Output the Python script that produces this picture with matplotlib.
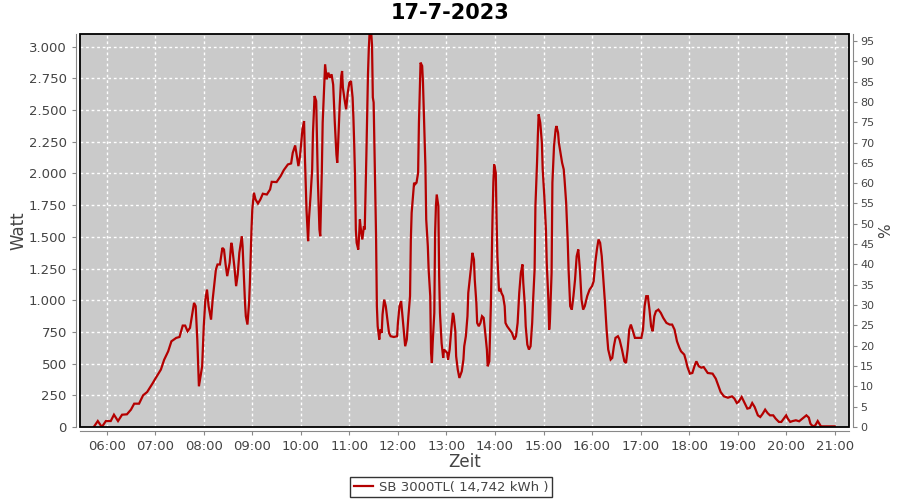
import pandas as pd
import numpy as np
import matplotlib
matplotlib.use("Agg")
import matplotlib.pyplot as plt
import matplotlib.dates as mdates
from matplotlib.ticker import FuncFormatter, MultipleLocator
from matplotlib.patches import Rectangle

# Readings of the inverter output (time of day, Watt)
times = [
    "05:44", "05:49", "05:54", "05:59", "06:05", "06:09", "06:14", "06:19", "06:25", "06:30",
    "06:34", "06:40", "06:45", "06:50", "06:57", "07:00", "07:07", "07:11", "07:16", "07:20",
    "07:26", "07:30", "07:34", "07:37", "07:40", "07:43", "07:46", "07:48", "07:50", "07:52",
    "07:54", "07:56", "07:58", "08:00", "08:02", "08:04", "08:06", "08:09", "08:11", "08:15",
    "08:17", "08:20", "08:23", "08:25", "08:27", "08:29", "08:32", "08:34", "08:35", "08:38",
    "08:40", "08:42", "08:44", "08:47", "08:48", "08:51", "08:52", "08:54", "08:56", "08:57",
    "08:59", "09:00", "09:02", "09:04", "09:07", "09:10", "09:13", "09:18", "09:22", "09:24",
    "09:30", "09:35", "09:39", "09:44", "09:48", "09:50", "09:53", "09:55", "09:57", "09:59",
    "10:02", "10:04", "10:05", "10:07", "10:09", "10:10", "10:12", "10:14", "10:15", "10:17",
    "10:19", "10:21", "10:23", "10:24", "10:26", "10:27", "10:29", "10:30", "10:32", "10:34",
    "10:36", "10:38", "10:40", "10:42", "10:44", "10:45", "10:46", "10:48", "10:50", "10:51",
    "10:52", "10:54", "10:56", "10:58", "11:00", "11:02", "11:04", "11:05", "11:06", "11:07",
    "11:08", "11:09", "11:11", "11:12", "11:13", "11:14", "11:16", "11:18", "11:19", "11:20",
    "11:21", "11:23", "11:24", "11:25", "11:27", "11:28", "11:29", "11:30", "11:31", "11:32",
    "11:33", "11:34", "11:35", "11:37", "11:38", "11:40", "11:41", "11:43", "11:45", "11:47",
    "11:49", "11:51", "11:55", "11:59", "12:00", "12:02", "12:04", "12:06", "12:09", "12:11",
    "12:13", "12:15", "12:16", "12:17", "12:19", "12:20", "12:21", "12:23", "12:25", "12:26",
    "12:27", "12:28", "12:30", "12:31", "12:32", "12:33", "12:34", "12:35", "12:37", "12:38",
    "12:40", "12:41", "12:42", "12:43", "12:45", "12:46", "12:47", "12:48", "12:50", "12:51",
    "12:52", "12:54", "12:56", "12:57", "12:59", "13:01", "13:02", "13:04", "13:06", "13:08",
    "13:09", "13:11", "13:12", "13:14", "13:16", "13:19", "13:21", "13:22", "13:24", "13:26",
    "13:27", "13:29", "13:31", "13:32", "13:34", "13:35", "13:37", "13:38", "13:40", "13:42",
    "13:44", "13:46", "13:48", "13:50", "13:51", "13:53", "13:55", "13:56", "13:57", "13:58",
    "13:59", "14:01", "14:02", "14:03", "14:05", "14:07", "14:08", "14:10", "14:12", "14:13",
    "14:15", "14:18", "14:21", "14:24", "14:26", "14:28", "14:30", "14:32", "14:34", "14:35",
    "14:37", "14:38", "14:40", "14:42", "14:44", "14:46", "14:47", "14:49", "14:50", "14:52",
    "14:53", "14:54", "14:56", "14:58", "14:59", "15:01", "15:03", "15:04", "15:06", "15:07",
    "15:08", "15:10", "15:11", "15:13", "15:15", "15:16", "15:18", "15:19", "15:21", "15:23",
    "15:25", "15:26", "15:28", "15:30", "15:31", "15:33", "15:35", "15:37", "15:39", "15:41",
    "15:43", "15:45", "15:47", "15:49", "15:51", "15:54", "15:57", "16:00", "16:02", "16:04",
    "16:06", "16:08", "16:10", "16:12", "16:14", "16:16", "16:18", "16:20", "16:23", "16:25",
    "16:27", "16:29", "16:32", "16:34", "16:37", "16:40", "16:42", "16:44", "16:46", "16:48",
    "16:50", "16:53", "16:57", "17:01", "17:03", "17:05", "17:07", "17:09", "17:11", "17:13",
    "17:15", "17:17", "17:19", "17:22", "17:25", "17:28", "17:32", "17:36", "17:39", "17:42",
    "17:45", "17:48", "17:50", "17:54", "17:56", "17:58", "18:01", "18:04", "18:07", "18:09",
    "18:12", "18:15", "18:18", "18:23", "18:29", "18:33", "18:36", "18:39", "18:43", "18:48",
    "18:53", "18:56", "18:59", "19:01", "19:05", "19:08", "19:12", "19:15", "19:18", "19:21",
    "19:25", "19:28", "19:31", "19:34", "19:37", "19:40", "19:44", "19:47", "19:51", "19:54",
    "19:57", "20:00", "20:02", "20:05", "20:08", "20:12", "20:16", "20:20", "20:25", "20:28",
    "20:30", "20:33", "20:36", "20:39", "20:41", "20:43", "21:00",
]
watt = [
    0, 47, 0, 47, 47, 97, 47, 97, 100, 137,
    184, 184, 250, 276, 347, 380, 453, 530, 597, 676,
    703, 710, 800, 800, 755, 782, 900, 979, 953, 690,
    321, 400, 479, 795, 1005, 1084, 953, 847, 1005, 1242,
    1282, 1282, 1413, 1400, 1282, 1190, 1295, 1453, 1426, 1255,
    1111, 1203, 1374, 1505, 1426, 979, 874, 808, 979, 1137,
    1558, 1716, 1848, 1795, 1763, 1795, 1840, 1834, 1874, 1934,
    1932, 1979, 2027, 2071, 2079, 2163, 2221, 2137, 2058, 2137,
    2348, 2413, 2137, 1716, 1466, 1637, 1821, 2032, 2321, 2611,
    2571, 1953, 1558, 1505, 2032, 2400, 2703, 2861, 2742, 2795,
    2755, 2782, 2700, 2400, 2150, 2084, 2216, 2532, 2769, 2808,
    2677, 2585, 2506, 2637, 2716, 2729, 2598, 2440, 2229, 1979,
    1558, 1453, 1400, 1505, 1637, 1571, 1479, 1584, 1558, 1848,
    2137, 2782, 2979, 3110, 3110, 3013, 2600, 2560, 2216, 1861,
    1505, 953, 795, 690, 768, 742, 887, 1005, 953, 847,
    742, 716, 710, 716, 821, 953, 992, 847, 637, 690,
    874, 1032, 1479, 1690, 1848, 1927, 1913, 1927, 2006, 2400,
    2637, 2874, 2848, 2716, 2506, 2295, 2058, 1637, 1426, 1242,
    1032, 584, 505, 663, 900, 1532, 1742, 1834, 1742, 1190,
    900, 663, 545, 611, 597, 584, 532, 611, 768, 900,
    874, 755, 558, 453, 387, 440, 532, 637, 716, 874,
    1058, 1176, 1295, 1374, 1321, 1163, 979, 821, 795, 821,
    874, 861, 742, 611, 479, 518, 979, 1321, 1663, 1927,
    2071, 2006, 1637, 1347, 1071, 1084, 1058, 1032, 953, 821,
    795, 768, 742, 690, 716, 821, 1058, 1216, 1282, 1137,
    953, 795, 650, 611, 637, 821, 979, 1242, 1742, 2084,
    2295, 2466, 2400, 2242, 2032, 1821, 1558, 1295, 1005, 768,
    847, 1216, 1927, 2216, 2348, 2374, 2321, 2242, 2163, 2084,
    2032, 1953, 1769, 1453, 1242, 953, 926, 1032, 1163, 1347,
    1400, 1242, 1005, 926, 953, 1032, 1084, 1111, 1150, 1295,
    1400, 1479, 1453, 1347, 1163, 979, 768, 611, 532, 545,
    637, 703, 716, 690, 611, 518, 505, 611, 768, 808,
    768, 703, 703, 703, 768, 953, 1032, 1032, 926, 795,
    755, 874, 913, 926, 900, 861, 821, 808, 808, 768,
    676, 624, 597, 571, 526, 473, 421, 426, 487, 518,
    479, 468, 473, 426, 421, 381, 329, 276, 242, 231,
    242, 224, 189, 197, 237, 197, 145, 150, 189, 158,
    92, 79, 105, 137, 110, 92, 92, 66, 40, 40,
    66, 92, 66, 40, 47, 53, 45, 66, 92, 74,
    26, 5, 13, 47, 26, 5, 5,
]
title = "17-7-2023"
legend_label = "SB 3000TL( 14,742 kWh )"

day = "2023-07-17 "
x = pd.to_datetime([day + t for t in times])

line_color = "#B40000"
text_color = "#444444"
axis_color = "#888888"

fig = plt.figure(figsize=(9, 5), dpi=100)
ax = fig.add_axes([80 / 900, 1 - 427 / 500, (849 - 80) / 900, (427 - 34) / 500])
ax.set_facecolor("#CACACA")

ax.plot(x, watt, color=line_color, lw=1.6, solid_joinstyle="miter", zorder=3)

ax.set_xlim(pd.Timestamp(day + "05:27"), pd.Timestamp(day + "21:17:40"))
ax.set_ylim(0, 3100)
ax.yaxis.set_major_locator(MultipleLocator(250))
ax.yaxis.set_major_formatter(FuncFormatter(lambda v, p: f"{int(v):,}".replace(",", ".")))
ax.xaxis.set_major_locator(mdates.HourLocator())
ax.xaxis.set_major_formatter(mdates.DateFormatter("%H:%M"))

ax.grid(True, color="white", lw=1, linestyle=(0, (2, 2)))
ax.set_axisbelow(True)

# plot border plus offset axis lines
ax.add_patch(Rectangle((0, 0), 1, 1, transform=ax.transAxes, fill=False,
                       edgecolor="black", lw=1.3, clip_on=False, zorder=5))
for side in ["left", "bottom"]:
    ax.spines[side].set_position(("outward", 3))
    ax.spines[side].set_color(axis_color)
for side in ["top", "right"]:
    ax.spines[side].set_visible(False)

ax.tick_params(colors=axis_color, labelcolor=text_color, labelsize=9.5, length=3)
ax.set_ylabel("Watt", fontsize=12, color=text_color, labelpad=1)
ax.set_xlabel("Zeit", fontsize=12, color=text_color, labelpad=0)

ax2 = ax.twinx()
ax2.set_ylim(0, 96.7)
ax2.yaxis.set_major_locator(MultipleLocator(5))
for side in ["left", "top", "bottom"]:
    ax2.spines[side].set_visible(False)
ax2.spines["right"].set_position(("outward", 3))
ax2.spines["right"].set_color(axis_color)
ax2.tick_params(colors=axis_color, labelcolor=text_color, labelsize=8, length=3, pad=2)
ax2.set_ylabel("%", fontsize=11, color=text_color, labelpad=3)

fig.text(0.5, 0.974, title, ha="center", va="center", fontsize=15, fontweight="bold")

leg = fig.legend([ax.lines[0]], [legend_label], loc="center", bbox_to_anchor=(0.501, 0.026),
                 frameon=True, fancybox=False, fontsize=9.5, handlelength=1.5,
                 handletextpad=0.4, borderpad=0.3, borderaxespad=0)
leg.get_frame().set_edgecolor("black")
leg.get_frame().set_linewidth(1)
for t in leg.get_texts():
    t.set_color(text_color)

fig.savefig("out.png", dpi=100)
